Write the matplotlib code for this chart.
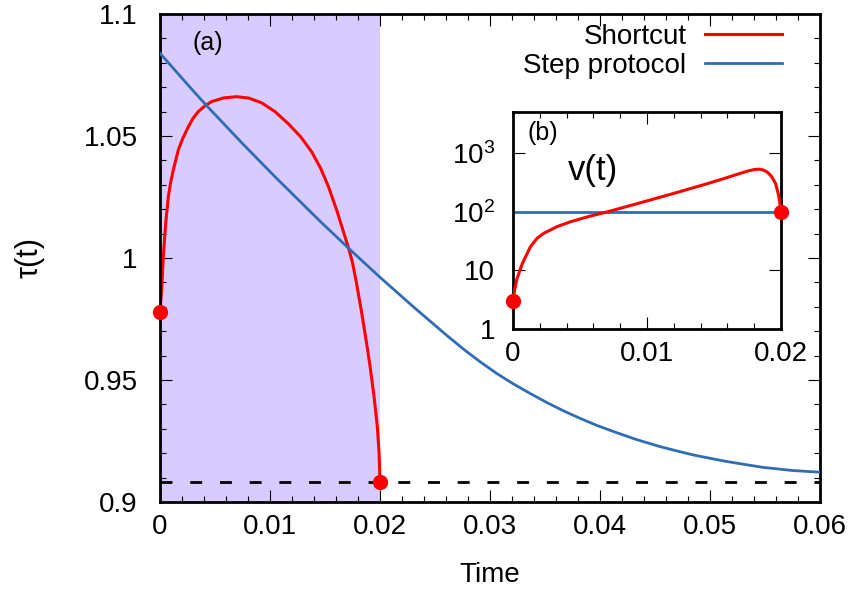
import matplotlib
matplotlib.use('Agg')
import matplotlib.pyplot as plt
import matplotlib.ticker as mticker

plt.rcParams['font.family'] = ['Liberation Sans', 'DejaVu Sans']
plt.rcParams['mathtext.fontset'] = 'custom'
plt.rcParams['mathtext.rm'] = 'Liberation Sans'
plt.rcParams['mathtext.it'] = 'Liberation Sans:italic'

# main panel: tau(t)
t_shortcut = [0, 0.00015, 0.0003, 0.00052, 0.00076, 0.00095, 0.00121, 0.00167, 0.00205,
              0.00258, 0.003, 0.00348, 0.0041, 0.0047, 0.0058, 0.00697, 0.0081, 0.00924,
              0.01045, 0.01167, 0.0128, 0.01379, 0.0146, 0.0153, 0.0161, 0.01721, 0.0175,
              0.01788, 0.01834, 0.01879, 0.01909, 0.01945, 0.01975, 0.01992, 0.02]
tau_shortcut = [0.978, 0.9869, 1.0005, 1.0142, 1.0251, 1.0305, 1.0361, 1.0443, 1.0488,
                1.0538, 1.0572, 1.06, 1.0624, 1.0641, 1.0656, 1.0661, 1.0655, 1.0636,
                1.06, 1.055, 1.0496, 1.0435, 1.0368, 1.0294, 1.0191, 1.003, 0.9981,
                0.9893, 0.9774, 0.9648, 0.9558, 0.9435, 0.9312, 0.92, 0.908]
t_step = [0, 0.00288, 0.00439, 0.0075, 0.01045, 0.0145, 0.01721, 0.02, 0.02303, 0.02606,
          0.0276, 0.02909, 0.0306, 0.03212, 0.0336, 0.03515, 0.0367, 0.03818, 0.0397,
          0.04121, 0.0433, 0.04545, 0.047, 0.04864, 0.0515, 0.05477, 0.0575, 0.06]
tau_step = [1.0839, 1.0692, 1.0617, 1.0469, 1.0333, 1.0153, 1.0037, 0.9921, 0.98, 0.9683,
            0.9626, 0.9575, 0.9527, 0.9484, 0.9446, 0.9408, 0.9373, 0.9343, 0.9314,
            0.9289, 0.9256, 0.9227, 0.9209, 0.9191, 0.9166, 0.9142, 0.9129, 0.9122]
tau_final = 0.908
t_protocol = 0.02

# inset: v(t)
t_v = [0, 0.00012, 0.0003, 0.0007, 0.0013, 0.0018, 0.0023, 0.0033, 0.0043, 0.0057, 0.0071,
       0.0094, 0.0119, 0.0144, 0.0159, 0.0169, 0.0175, 0.018, 0.0184, 0.0187, 0.019,
       0.0193, 0.0196, 0.0198, 0.0199, 0.02]
v_shortcut = [3.0, 4.6, 7.2, 13.1, 25.2, 35.2, 42.8, 55.7, 67.4, 83.2, 100,
              139.6, 201.8, 295, 376, 445, 490, 522, 530, 511, 468,
              398, 300, 200, 150, 100]
t_v_step = [0, 0.02]
v_step = [100, 100]

red = '#ff0000'
blue = '#2f6db5'
shade = '#d8cbff'

fig = plt.figure(figsize=(8.51, 5.90), dpi=100)
ax = fig.add_axes([0.188, 0.1492, 0.7756, 0.8271])

ax.axvspan(0, t_protocol, color=shade, lw=0, zorder=0)
ax.axhline(tau_final, color='k', lw=2, dashes=(4.3, 6.4), zorder=1)
ax.plot(t_shortcut, tau_shortcut, color=red, lw=2.2, label='Shortcut', zorder=2)
ax.plot(t_step, tau_step, color=blue, lw=2.0, label='Step protocol', zorder=3)
ax.plot([t_shortcut[0], t_shortcut[-1]], [tau_shortcut[0], tau_shortcut[-1]], 'o',
        color=red, ms=10, clip_on=False, zorder=5)

ax.set_xlim(0, 0.06)
ax.set_ylim(0.9, 1.1)
ax.set_xticks([0, 0.01, 0.02, 0.03, 0.04, 0.05, 0.06])
ax.set_yticks([0.9, 0.95, 1.0, 1.05, 1.1])
ax.xaxis.set_major_formatter(mticker.FormatStrFormatter('%g'))
ax.yaxis.set_major_formatter(mticker.FormatStrFormatter('%g'))
ax.xaxis.set_minor_locator(mticker.MultipleLocator(0.002))
ax.yaxis.set_minor_locator(mticker.MultipleLocator(0.01))
ax.tick_params(which='both', direction='in', top=True, right=True, width=0.8, labelsize=20)
ax.tick_params(which='major', length=8.5)
ax.tick_params(which='minor', length=4.2)
ax.tick_params(axis='x', pad=9)
ax.tick_params(axis='y', pad=16)
for s in ax.spines.values():
    s.set_linewidth(2)

ax.set_xlabel('Time', fontsize=20, va='center')
ax.xaxis.set_label_coords(0.5, -0.15)
ax.set_ylabel('τ(t)', fontsize=22, va='center')
ax.yaxis.set_label_coords(-0.197, 0.5)

ax.text(0.073, 0.94, '(a)', transform=ax.transAxes, fontsize=18, ha='center', va='center')

ax.legend(loc='upper right', bbox_to_anchor=(0.942, 0.98), frameon=False, markerfirst=False,
          handlelength=2.75, handletextpad=0.68, labelspacing=0.1, borderpad=0,
          borderaxespad=0, fontsize=20)

# inset
ins = fig.add_axes([0.6028, 0.4424, 0.3149, 0.3678])
ins.plot(t_v_step, v_step, color=blue, lw=2.0, zorder=2)
ins.plot(t_v, v_shortcut, color=red, lw=2.2, zorder=3)
ins.plot([t_v[0], t_v[-1]], [v_shortcut[0], v_shortcut[-1]], 'o', color=red, ms=10,
         clip_on=False, zorder=5)
ins.set_yscale('log')
ins.set_xlim(0, 0.02)
ins.set_ylim(1, 5000)
ins.set_xticks([0, 0.01, 0.02])
ins.set_xticklabels(['0', '0.01', '0.02'])
ins.set_yticks([1, 10, 100, 1000])
ins.set_yticklabels(['1', '10', r'$10^2$', r'$10^3$'])
ins.xaxis.set_minor_locator(mticker.MultipleLocator(0.002))
ins.yaxis.set_minor_locator(mticker.LogLocator(base=10, subs=[2, 3, 4, 5, 6, 7, 8, 9]))
ins.yaxis.set_minor_formatter(mticker.NullFormatter())
ins.tick_params(which='both', direction='in', top=True, right=True, width=0.8, labelsize=20)
ins.tick_params(which='major', length=8.5)
ins.tick_params(which='minor', length=4.2)
ins.tick_params(axis='x', pad=9)
ins.tick_params(axis='y', pad=13)
for s in ins.spines.values():
    s.set_linewidth(2)
ins.text(0.113, 0.902, '(b)', transform=ins.transAxes, fontsize=18, ha='center', va='center')
ins.text(0.2985, 0.7295, 'v(t)', transform=ins.transAxes, fontsize=25, ha='center', va='center')

fig.savefig('out.png', dpi=100)
